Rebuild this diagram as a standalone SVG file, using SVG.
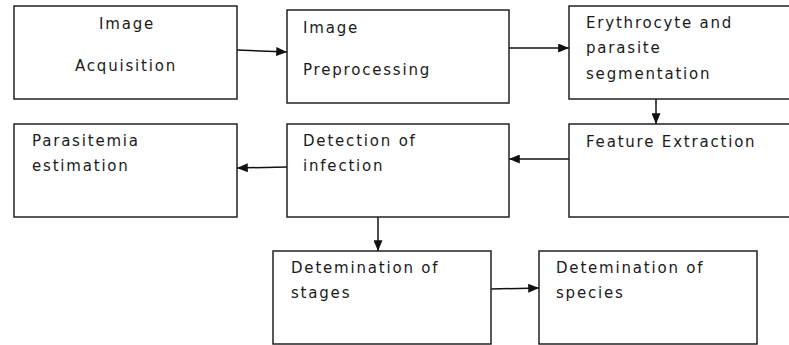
<svg xmlns="http://www.w3.org/2000/svg" width="789" height="345" viewBox="0 0 789 345">
<style>
.box{fill:#fff;stroke:#222;stroke-width:1.5}
.t{font-family:"DejaVu Sans","Liberation Sans",sans-serif;font-size:15px;fill:#1a1a1a;letter-spacing:1.8px}
.c{text-anchor:middle}
.e{stroke:#111;stroke-width:1.5;fill:none;marker-end:url(#ah)}
</style>
<defs>
<marker id="ah" viewBox="0 0 12 10" refX="12" refY="5" markerWidth="12" markerHeight="9" markerUnits="userSpaceOnUse" orient="auto">
<path d="M0,0 L12,5 L0,10 z" fill="#111"/>
</marker>
</defs>
<rect width="789" height="345" fill="#fff"/>
<g id="connectors">
<path class="e" d="M237,50 L287,52"/>
<path class="e" d="M509,48 L569,48"/>
<path class="e" d="M656,99 L656,124"/>
<path class="e" d="M569,159 L509,159"/>
<path class="e" d="M287,167 L237,168"/>
<path class="e" d="M378,217 L378,251"/>
<path class="e" d="M491,289 L539,288"/>
</g>
<g id="n1"><rect class="box" x="14" y="6" width="223" height="93"/><text class="t c" x="127" y="29">Image</text><text class="t c" x="126" y="71">Acquisition</text></g>
<g id="n2"><rect class="box" x="287" y="10" width="222" height="93"/><text class="t" x="303" y="33">Image</text><text class="t" x="303" y="75">Preprocessing</text></g>
<g id="n3"><rect class="box" x="569" y="6" width="230" height="93"/><text class="t" x="586" y="28">Erythrocyte and</text><text class="t" x="586" y="53">parasite</text><text class="t" x="586" y="79">segmentation</text></g>
<g id="n4"><rect class="box" x="14" y="124" width="223" height="93"/><text class="t" x="32" y="146">Parasitemia</text><text class="t" x="32" y="171">estimation</text></g>
<g id="n5"><rect class="box" x="287" y="124" width="222" height="93"/><text class="t" x="303" y="146">Detection of</text><text class="t" x="303" y="171">infection</text></g>
<g id="n6"><rect class="box" x="569" y="124" width="230" height="93"/><text class="t" x="586" y="147">Feature Extraction</text></g>
<g id="n7"><rect class="box" x="273" y="251" width="218" height="93"/><text class="t" x="291" y="273">Detemination of</text><text class="t" x="291" y="298">stages</text></g>
<g id="n8"><rect class="box" x="539" y="251" width="218" height="93"/><text class="t" x="556" y="273">Detemination of</text><text class="t" x="556" y="298">species</text></g>
</svg>
